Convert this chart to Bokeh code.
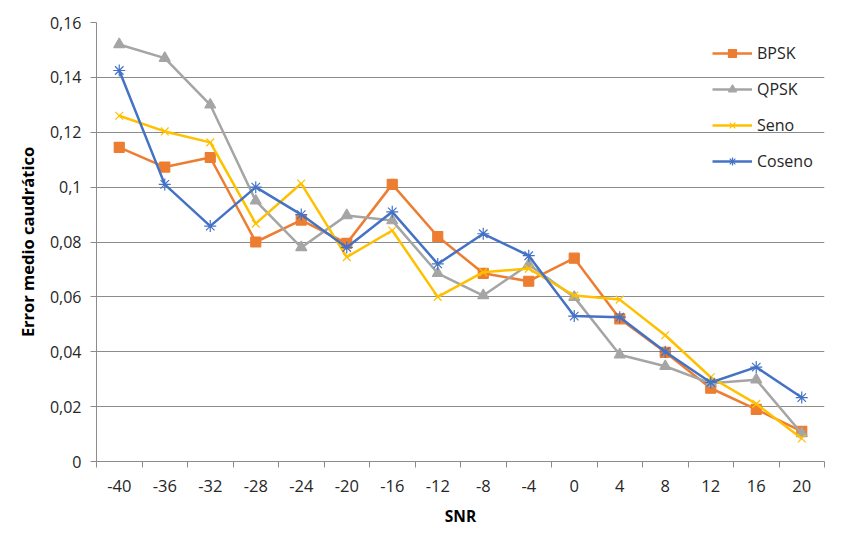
from bokeh.plotting import figure
from bokeh.models import Range1d, FixedTicker, Legend, LegendItem
from bokeh.embed import file_html
from bokeh.resources import INLINE

snr = [-40, -36, -32, -28, -24, -20, -16, -12, -8, -4, 0, 4, 8, 12, 16, 20]
x_labels = ["-40", "-36", "-32", "-28", "-24", "-20", "-16", "-12", "-8", "-4",
            "0", "4", "8", "12", "16", "20"]
bpsk = [0.1145, 0.1073, 0.1108, 0.080, 0.088, 0.0795, 0.101, 0.082, 0.0686, 0.0657,
        0.0741, 0.052, 0.0398, 0.0267, 0.019, 0.011]
qpsk = [0.152, 0.147, 0.130, 0.095, 0.078, 0.0897, 0.0878, 0.0686, 0.0605, 0.0718,
        0.0599, 0.0389, 0.0347, 0.0285, 0.0298, 0.0102]
seno = [0.126, 0.1203, 0.1163, 0.0867, 0.1013, 0.0745, 0.0842, 0.060, 0.069, 0.0703,
        0.0605, 0.059, 0.046, 0.0307, 0.021, 0.0084]
coseno = [0.1425, 0.101, 0.0858, 0.100, 0.090, 0.078, 0.091, 0.072, 0.083, 0.075,
          0.053, 0.0526, 0.040, 0.0288, 0.0344, 0.0233]
y_ticks = [0, 0.02, 0.04, 0.06, 0.08, 0.1, 0.12, 0.14, 0.16]
y_labels = ["0", "0,02", "0,04", "0,06", "0,08", "0,1", "0,12", "0,14", "0,16"]

FONT = "Open Sans"
GRID = "#8C8C8C"

step = snr[1] - snr[0]
p = figure(width=843, height=535, output_backend="svg", toolbar_location=None,
           x_range=Range1d(snr[0] - step / 2, snr[-1] + step / 2),
           y_range=Range1d(y_ticks[0], y_ticks[-1]),
           min_border_left=96, min_border_right=19, min_border_top=22, min_border_bottom=74)
p.outline_line_color = None
p.background_fill_color = "white"
p.border_fill_color = "white"

p.xgrid.visible = False
p.ygrid.grid_line_color = GRID
p.ygrid.grid_line_width = 1
p.ygrid.ticker = FixedTicker(ticks=y_ticks)

# x axis
p.xaxis.ticker = FixedTicker(ticks=snr, minor_ticks=[s - step / 2 for s in snr] + [snr[-1] + step / 2])
p.xaxis.major_label_overrides = {s: l for s, l in zip(snr, x_labels)}
p.xaxis.major_tick_out = 0
p.xaxis.major_tick_in = 0
p.xaxis.minor_tick_out = 6
p.xaxis.minor_tick_in = 0
p.xaxis.minor_tick_line_color = GRID
p.xaxis.axis_line_color = GRID
p.xaxis.major_label_text_font = FONT
p.xaxis.major_label_text_font_size = "16.5px"
p.xaxis.major_label_text_color = "#262626"
p.xaxis.major_label_standoff = 12
p.xaxis.axis_label = "SNR"
p.xaxis.axis_label_text_font = FONT
p.xaxis.axis_label_text_font_size = "15.5px"
p.xaxis.axis_label_text_font_style = "bold"
p.xaxis.axis_label_text_color = "#000000"
p.xaxis.axis_label_standoff = 10

# y axis
p.yaxis.ticker = FixedTicker(ticks=y_ticks)
p.yaxis.major_label_overrides = {t: l for t, l in zip(y_ticks, y_labels)}
p.yaxis.major_tick_out = 6
p.yaxis.major_tick_in = 0
p.yaxis.minor_tick_line_color = None
p.yaxis.major_tick_line_color = GRID
p.yaxis.axis_line_color = GRID
p.yaxis.major_label_text_font = FONT
p.yaxis.major_label_text_font_size = "16px"
p.yaxis.major_label_text_color = "#262626"
p.yaxis.major_label_standoff = 9
p.yaxis.axis_label = "Error medio caudrático"
p.yaxis.axis_label_text_font = FONT
p.yaxis.axis_label_text_font_size = "16.5px"
p.yaxis.axis_label_text_font_style = "bold"
p.yaxis.axis_label_text_color = "#000000"
p.yaxis.axis_label_standoff = 8

series = [
    ("BPSK", bpsk, "#ED7D31", "square", 10),
    ("QPSK", qpsk, "#A5A5A5", "triangle", 11),
    ("Seno", seno, "#FFC000", "x", 11),
    ("Coseno", coseno, "#4472C4", "asterisk", 12),
]
items = []
for name, vals, color, marker, size in series:
    l = p.line(snr, vals, line_color=color, line_width=2.5)
    m = p.scatter(snr, vals, marker=marker, size=size, fill_color=color,
                  line_color=color, line_width=1.2)
    items.append(LegendItem(label=name, renderers=[l, m]))

legend = Legend(items=items, location=(616, 289),
                border_line_color=None, background_fill_alpha=0,
                label_text_font=FONT, label_text_font_size="16px",
                label_text_color="#262626",
                glyph_width=40, glyph_height=20, label_height=20,
                spacing=14, margin=0, padding=8, label_standoff=5)
p.add_layout(legend)

open("out.html", "w").write(file_html(p, INLINE))
